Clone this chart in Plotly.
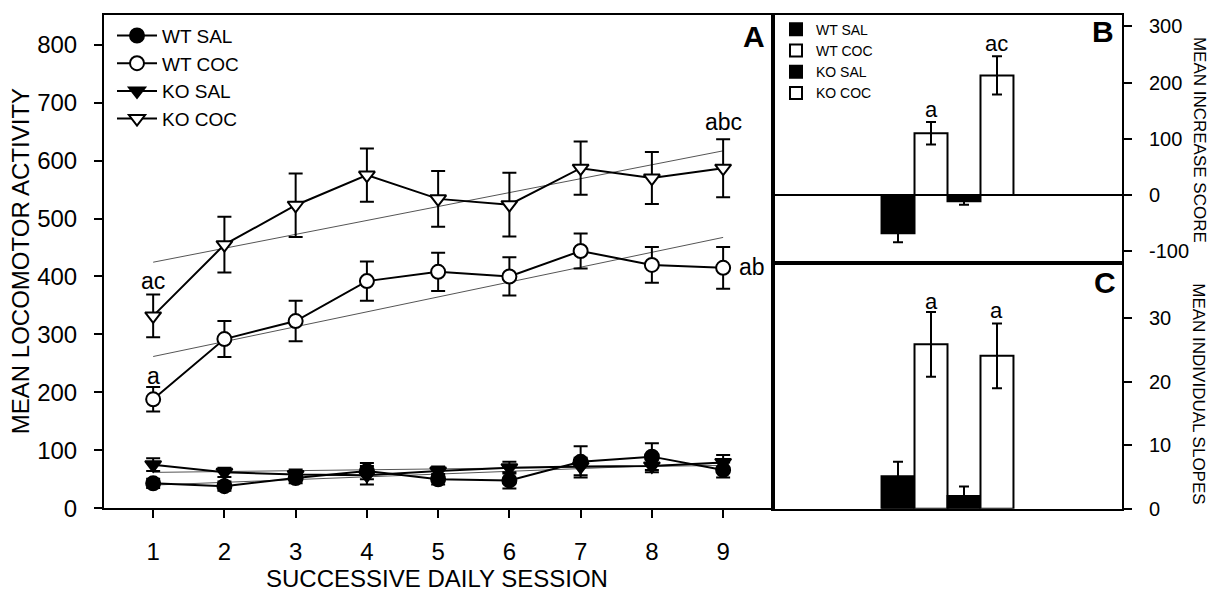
import numpy as np
import plotly.graph_objects as go

# ---------------- data ----------------
sessions = [1, 2, 3, 4, 5, 6, 7, 8, 9]
wt_sal = [43, 38, 52, 64, 50, 48, 80, 89, 66]
wt_sal_err = [8, 8, 9, 14, 9, 14, 27, 23, 13]
wt_coc = [188, 292, 323, 392, 408, 400, 444, 420, 415]
wt_coc_err = [21, 31, 35, 34, 33, 33, 30, 31, 36]
ko_sal = [75, 62, 58, 57, 64, 70, 72, 73, 79]
ko_sal_err = [11, 8, 9, 16, 8, 10, 15, 11, 13]
ko_coc = [332, 455, 523, 575, 534, 524, 587, 570, 587]
ko_coc_err = [37, 48, 55, 46, 48, 55, 46, 45, 50]

groups = ["WT SAL", "WT COC", "KO SAL", "KO COC"]
group_pos = [1, 2, 3, 4]
increase = [-68, 110, -11, 213]
increase_err = [16, 20, 6, 34]
slopes = [5.1, 25.9, 2.0, 24.1]
slopes_err = [2.3, 5.1, 1.5, 5.1]

a_ticks = [0, 100, 200, 300, 400, 500, 600, 700, 800]
b_ticks = [-100, 0, 100, 200, 300]
b_tick_text = ["-100", "0", "100", "200", "300"]
c_ticks = [0, 10, 20, 30]

a_letters = [("ac", 1, 393), ("a", 1, 229), ("abc", 9, 667), ("ab", 9.41, 416)]
b_letters = [("a", 2, 152), ("ac", 4, 269)]
c_letters = [("a", 2, 32.7), ("a", 4, 31.2)]

FONT = "Arial, Liberation Sans, sans-serif"
W, H = 1209, 597


def px(x):
    return x / W


def py(y):
    return 1 - y / H


fig = go.Figure()

# ---------- panel A ----------
series = [
    ("WT SAL", wt_sal, wt_sal_err, "circle", "black"),
    ("WT COC", wt_coc, wt_coc_err, "circle", "white"),
    ("KO SAL", ko_sal, ko_sal_err, "triangle-down", "black"),
    ("KO COC", ko_coc, ko_coc_err, "triangle-down", "white"),
]
# regression trend lines
for name, vals, err, sym, fill in series:
    k, b = np.polyfit(sessions, vals, 1)
    xs = np.array([sessions[0], sessions[-1]])
    fig.add_trace(go.Scatter(x=xs, y=k * xs + b, mode="lines",
                             line=dict(color="#555555", width=1),
                             showlegend=False, hoverinfo="skip",
                             xaxis="x", yaxis="y"))

for name, vals, err, sym, fill in series:
    fig.add_trace(go.Scatter(
        x=sessions, y=vals, name=name, mode="lines+markers",
        line=dict(color="black", width=2),
        marker=dict(symbol=sym, size=14, color=fill,
                    line=dict(color="black", width=2)),
        error_y=dict(type="data", array=err, color="black", thickness=2, width=7),
        xaxis="x", yaxis="y", legend="legend"))

# ---------- panels B & C ----------
fills = ["black", "white", "black", "white"]
for i, g in enumerate(groups):
    fig.add_trace(go.Bar(
        x=[group_pos[i]], y=[increase[i]], name=g, width=1,
        marker=dict(color=fills[i], line=dict(color="black", width=2)),
        error_y=dict(type="data", array=[increase_err[i]], color="black",
                     thickness=2, width=5),
        xaxis="x2", yaxis="y2", legend="legend2"))
for i, g in enumerate(groups):
    fig.add_trace(go.Bar(
        x=[group_pos[i]], y=[slopes[i]], name=g, width=1, showlegend=False,
        marker=dict(color=fills[i], line=dict(color="black", width=2)),
        error_y=dict(type="data", array=[slopes_err[i]], color="black",
                     thickness=2, width=5),
        xaxis="x3", yaxis="y3"))


def txt(text, x, y, xref, yref, size, angle=0):
    return dict(text=text, x=x, y=y, xref=xref, yref=yref, showarrow=False,
                xanchor="center", yanchor="middle", textangle=angle,
                font=dict(size=size, color="black", family=FONT))


ann = []
for t, x, y in a_letters:
    ann.append(txt(t, x, y, "x", "y", 23))
for t, x, y in b_letters:
    ann.append(txt(t, x, y, "x2", "y2", 22))
for t, x, y in c_letters:
    ann.append(txt(t, x, y, "x3", "y3", 22))
for t, x, y in [("A", 754, 37), ("B", 1103, 32), ("C", 1105, 289)]:
    ann.append(txt("<b>%s</b>" % t, px(x), py(y), "paper", "paper", 30))
ann.append(txt("MEAN LOCOMOTOR ACTIVITY", px(20), py(267), "paper", "paper", 24, -90))
ann.append(txt("SUCCESSIVE DAILY SESSION", px(437), py(591), "paper", "paper", 24))
ann.append(txt("MEAN INCREASE SCORE", px(1199), py(143), "paper", "paper", 17, 90))
ann.append(txt("MEAN INDIVIDUAL SLOPES", px(1199), py(402), "paper", "paper", 17, 90))

axis_line = dict(showline=True, linecolor="black", linewidth=2, mirror=True,
                 showgrid=False, zeroline=False,
                 ticks="outside", ticklen=8, tickwidth=2, tickcolor="black")
left_axis = dict(**axis_line, tickfont=dict(size=24, color="black", family=FONT))
right_axis = dict(**axis_line, tickfont=dict(size=20, color="black", family=FONT),
                  ticklabelstandoff=13)

fig.update_layout(
    width=W, height=H, margin=dict(l=0, r=0, t=0, b=0),
    paper_bgcolor="white", plot_bgcolor="white", barmode="overlay",
    font=dict(family=FONT, color="black"),
    xaxis=dict(domain=[px(104), px(773)], range=[0.31, 9.70],
               tickvals=sessions, anchor="y", ticklabelstandoff=13, **left_axis),
    yaxis=dict(domain=[py(519.5), py(15)], range=[0, 852],
               tickvals=a_ticks, anchor="x", ticklabelstandoff=12, **left_axis),
    xaxis2=dict(domain=[px(773), px(1122)], range=[-2.79, 7.79], anchor="y2",
                showline=True, linecolor="black", linewidth=2, mirror=True,
                showgrid=False, zeroline=False, showticklabels=False, ticks=""),
    yaxis2=dict(domain=[py(269), py(15)], range=[-121, 321], anchor="x2", side="right",
                tickvals=b_ticks, ticktext=b_tick_text,
                **{**right_axis, "zeroline": True, "zerolinecolor": "black",
                   "zerolinewidth": 2}),
    xaxis3=dict(domain=[px(773), px(1122)], range=[-2.79, 7.79], anchor="y3",
                showline=True, linecolor="black", linewidth=2, mirror=True,
                showgrid=False, zeroline=False, showticklabels=False, ticks=""),
    yaxis3=dict(domain=[py(520), py(269)], range=[0, 38.7], anchor="x3", side="right",
                tickvals=c_ticks, **right_axis),
    legend=dict(x=px(112), y=py(17), xanchor="left", yanchor="top",
                bgcolor="rgba(0,0,0,0)", font=dict(size=19, color="black", family=FONT),
                itemwidth=40, tracegroupgap=0),
    legend2=dict(x=px(776), y=py(14), xanchor="left", yanchor="top",
                 bgcolor="rgba(0,0,0,0)", font=dict(size=14, color="black", family=FONT),
                 tracegroupgap=0),
    annotations=ann,
)

fig.write_html("out.html")
